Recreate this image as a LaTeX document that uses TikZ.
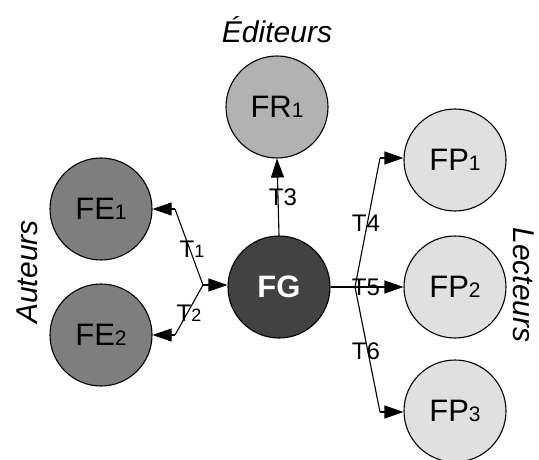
\documentclass[tikz,border=0pt]{standalone}
\usepackage{fontspec}
\setmainfont{Liberation Sans}
\usetikzlibrary{arrows.meta}
\definecolor{authorgray}{HTML}{7E7E7E}
\definecolor{hubgray}{HTML}{424242}
\definecolor{editorgray}{HTML}{B2B2B2}
\definecolor{readergray}{HTML}{E0E0E0}
\tikzset{
  actor/.style={circle, draw=black, line width=1.1pt, minimum size=102pt, inner sep=0pt,
    font=\fontsize{31}{31}\selectfont},
  flow/.style={line width=1.1pt, -{Triangle[length=19pt,width=13pt]}},
  link/.style={line width=1.1pt},
  tlabel/.style={font=\fontsize{24}{24}\selectfont, inner sep=0pt},
  group/.style={font=\itshape\fontsize{30}{30}\selectfont, inner sep=0pt},
}
\newcommand{\idx}[1]{{\fontsize{21}{21}\selectfont #1}}
\newcommand{\tidx}[1]{{\fontsize{18}{18}\selectfont #1}}
\begin{document}
\begin{tikzpicture}[x=1pt, y=-1pt]
  \useasboundingbox (0,0) rectangle (539,460);

  % participants
  \node[actor, fill=authorgray] (fe1) at (101,209) {FE\idx{1}};
  \node[actor, fill=authorgray] (fe2) at (101,335) {FE\idx{2}};
  \node[actor, fill=hubgray, text=white, font=\bfseries\fontsize{31}{31}\selectfont] (fg) at (279,287) {FG};
  \node[actor, fill=editorgray] (fr1) at (277,107) {FR\idx{1}};
  \node[actor, fill=readergray] (fp1) at (455,160) {FP\idx{1}};
  \node[actor, fill=readergray] (fp2) at (455,287) {FP\idx{2}};
  \node[actor, fill=readergray] (fp3) at (455,411) {FP\idx{3}};

  % group captions
  \node[group] (ed) at (277,30) {Éditeurs};
  \node[group, rotate=90] (au) at (27,272) {Auteurs};
  \node[group, rotate=-90] (le) at (524,285) {Lecteurs};

  % branch points
  \coordinate (jl) at (203,285);
  \coordinate (b1) at (175,209);
  \coordinate (b2) at (175,335);
  \coordinate (jr) at (355,287);
  \coordinate (b4) at (380,158);
  \coordinate (b6) at (380,412);

  % exchanges with the authors
  \draw[flow] (jl) -- (fg.west |- jl);
  \draw[link] (jl) -- (b1);
  \draw[flow] (b1) -- (fe1.east |- b1);
  \draw[link] (jl) -- (b2);
  \draw[flow] (b2) -- (fe2.east |- b2);

  % exchange with the publisher
  \draw[flow] (fg.north) -- (fr1.south);

  % exchanges with the readers
  \draw[link] (fg.east) -- (jr);
  \draw[link] (jr) -- (b4);
  \draw[flow] (b4) -- (fp1.west |- b4);
  \draw[flow] (jr) -- (fp2.west);
  \draw[link] (jr) -- (b6);
  \draw[flow] (b6) -- (fp3.west |- b6);

  % transfer labels
  \node[tlabel] (t1) at (192,249) {T\tidx{1}};
  \node[tlabel] (t2) at (189,313) {T\tidx{2}};
  \node[tlabel] (t3) at (283,197) {T3};
  \node[tlabel] (t4) at (366,223) {T4};
  \node[tlabel] (t5) at (366,287) {T5};
  \node[tlabel] (t6) at (366,351) {T6};
\end{tikzpicture}
\end{document}
